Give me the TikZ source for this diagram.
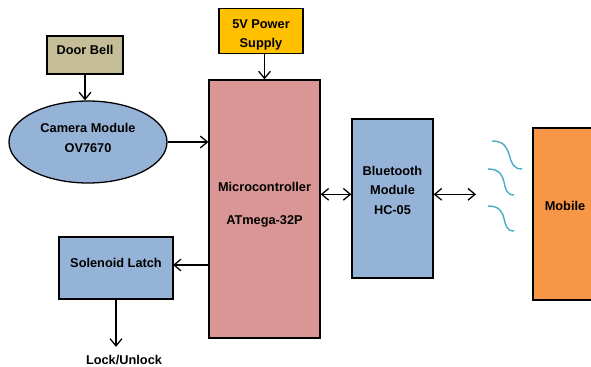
\documentclass[tikz,border=0pt]{standalone}
\usepackage{fontspec}
\setmainfont{Liberation Sans}
\usetikzlibrary{shapes.geometric, arrows.meta, positioning, calc}
\definecolor{bellfill}{HTML}{C4BD97}
\definecolor{powerfill}{HTML}{FFC000}
\definecolor{mcufill}{HTML}{D99694}
\definecolor{modfill}{HTML}{95B3D7}
\definecolor{phonefill}{HTML}{F79646}
\definecolor{wavecol}{HTML}{4BACC6}
\tikzstyle{block}  = [rectangle, draw=black, line width=1.1pt, align=center, inner sep=0pt]
\tikzstyle{arrow}  = [line width=1.1pt, -{Straight Barb[length=6pt, width=10pt]}]
\tikzstyle{darrow} = [line width=1.1pt, {Straight Barb[length=6pt, width=10pt]}-{Straight Barb[length=6pt, width=10pt]}]
\tikzstyle{wave}   = [line width=1.2pt, wavecol]

\begin{document}
\begin{tikzpicture}[every node/.style={font=\fontsize{10.9}{16.5}\selectfont\bfseries}]

  \useasboundingbox (0, 0) rectangle (17.73, -11.01);

  % Inputs
  \node (bell)  [block, fill=bellfill, minimum width=2.28cm, minimum height=1.14cm, text depth=0.3cm] at (2.55, -1.65) {Door Bell};
  \node (power) [block, fill=powerfill, minimum width=2.52cm, minimum height=1.35cm, text height=1.08cm] at (7.83, -0.92) {5V Power\\Supply};
  \node (cam)   [block, ellipse, fill=modfill, minimum width=4.74cm, minimum height=2.46cm, text depth=0.24cm] at (2.64, -4.26) {Camera Module\\OV7670};

  % Main blocks
  \node (mcu)   [block, fill=mcufill, minimum width=3.33cm, minimum height=7.74cm, text depth=0.32cm] at (7.935, -6.27) {Microcontroller\\[0.42cm]ATmega-32P};
  \node (bt)    [block, fill=modfill, minimum width=2.43cm, minimum height=4.77cm, text depth=0.5cm] at (11.775, -5.955) {Bluetooth\\Module\\HC-05};
  \node (phone) [block, fill=phonefill, minimum width=1.92cm, minimum height=5.16cm, text depth=0.48cm] at (16.95, -6.42) {Mobile};

  % Outputs
  \node (latch) [block, fill=modfill, minimum width=3.42cm, minimum height=1.86cm, text depth=0.32cm] at (3.48, -8.04) {Solenoid Latch};
  \node (lock)  [inner sep=0pt] at (3.72, -10.8) {Lock/Unlock};

  \coordinate (air) at (14.28, -5.83);
  \coordinate (latchport) at (5.19, -7.95);

  % Door bell -> camera
  \draw[arrow] (bell.south) -- (bell.south |- cam.north);
  % Power -> MCU
  \draw[arrow] (mcu.north |- power.south) -- (mcu.north);
  % Camera -> MCU
  \draw[arrow] (cam.east) -- (cam.east -| mcu.west);
  % MCU <-> Bluetooth
  \draw[darrow] (mcu.east |- air) -- (bt.west |- air);
  % Bluetooth <-> air
  \draw[darrow] (bt.east |- air) -- (air);
  % MCU -> latch
  \draw[arrow] (mcu.west |- latchport) -- (latchport);
  % Latch -> lock
  \draw[arrow, shorten >=7pt] (latch.south) -- (latch.south |- lock.north);

  % Radio waves
  \draw[wave] (14.76, -4.23) .. controls (15.5, -4.23) and (15.1, -5.07) .. (15.66, -5.07);
  \draw[wave] (14.64, -5.07) .. controls (15.35, -5.07) and (14.95, -5.85) .. (15.42, -5.85);
  \draw[wave] (14.64, -6.18) .. controls (15.35, -6.18) and (14.95, -6.93) .. (15.42, -6.93);

\end{tikzpicture}
\end{document}
